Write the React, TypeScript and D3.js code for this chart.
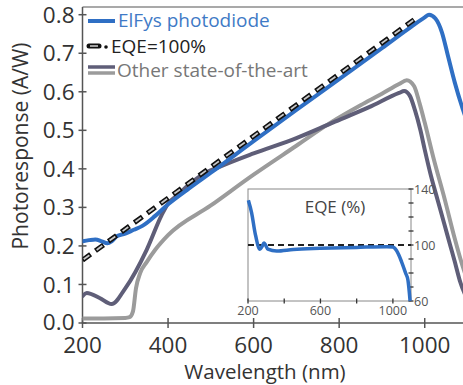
import * as d3 from 'd3';

// ElFys photodiode (A/W)
const elfysWl = [200, 215, 230, 245, 258, 268, 280, 300, 320, 340, 370, 400, 450, 500, 600, 700, 800, 900, 960, 1000, 1010, 1025, 1040, 1055, 1070, 1089, 1100];
const elfysResp = [0.212, 0.215, 0.217, 0.212, 0.207, 0.212, 0.225, 0.232, 0.242, 0.252, 0.278, 0.308, 0.35, 0.39, 0.472, 0.553, 0.633, 0.713, 0.762, 0.793, 0.8, 0.79, 0.755, 0.69, 0.625, 0.555, 0.52];

// other state-of-the-art, darker one
const darkWl = [200, 210, 240, 268, 300, 350, 385, 400, 420, 450, 480, 520, 600, 700, 785, 870, 940, 952, 965, 977, 990, 1000, 1015, 1030, 1045, 1060, 1070, 1082, 1100];
const darkResp = [0.07, 0.078, 0.065, 0.049, 0.09, 0.19, 0.28, 0.31, 0.33, 0.36, 0.385, 0.405, 0.44, 0.48, 0.52, 0.56, 0.597, 0.602, 0.59, 0.553, 0.5, 0.45, 0.38, 0.32, 0.26, 0.2, 0.16, 0.11, 0.06];

// other state-of-the-art, lighter one
const lightWl = [200, 250, 300, 310, 318, 325, 335, 350, 370, 400, 500, 600, 700, 780, 850, 900, 940, 958, 975, 988, 1000, 1020, 1047, 1070, 1089, 1100];
const lightResp = [0.012, 0.012, 0.013, 0.015, 0.03, 0.09, 0.13, 0.158, 0.19, 0.228, 0.305, 0.385, 0.46, 0.52, 0.565, 0.595, 0.62, 0.63, 0.615, 0.57, 0.52, 0.43, 0.32, 0.22, 0.146, 0.11];

// EQE = 100% reference line
const idealWl = [200, 975];
const idealResp = [0.163, 0.787];

// inset EQE (%)
const insetWl = [202, 220, 240, 266, 278, 288, 310, 358, 450, 597, 800, 966, 1000, 1020, 1048, 1070, 1083, 1095];
const insetEqe = [132, 123, 108, 97, 99, 101.5, 97, 95.7, 96.8, 97.6, 98.3, 98.8, 98.5, 96, 88, 80, 75, 60];

const yTicks = [0, 0.1, 0.2, 0.3, 0.4, 0.5, 0.6, 0.7, 0.8];
const xTicks = [200, 400, 600, 800, 1000];
const insetXTicks = [200, 400, 600, 800, 1000];
const insetXLabels = [200, 600, 1000];
const insetYTicks = [60, 70, 80, 90, 100, 110, 120, 130, 140];
const insetYLabels = [60, 100, 140];

const FONT = "'Open Sans', 'Noto Sans', sans-serif";
const BLUE = '#2f6fc4';
const DARK = '#5f5e78';
const LIGHT = '#9b9b9b';
const AXIS = '#555';

export default function App() {
  const W = 463, H = 385;
  const x = d3.scaleLinear().domain([200, 1100]).range([82.5, 467.5]);
  const y = d3.scaleLinear().domain([0, 0.82]).range([323, 7]);

  const line = d3.line<[number, number]>()
    .x(d => x(d[0]))
    .y(d => y(d[1]))
    .curve(d3.curveMonotoneX);

  const zip = (a: number[], b: number[]) => a.map((v, i) => [v, b[i]] as [number, number]);

  // inset scales
  const ix = d3.scaleLinear().domain([200, 1100]).range([248, 411]);
  const iy = d3.scaleLinear().domain([60, 140]).range([301, 189]);
  const iline = d3.line<[number, number]>()
    .x(d => ix(d[0]))
    .y(d => iy(d[1]))
    .curve(d3.curveMonotoneX);

  const ideal = line(zip(idealWl, idealResp)) || '';

  return (
    <svg width={W} height={H} style={{ position: 'absolute', left: 0, top: 0, background: '#fff' }} fontFamily={FONT}>
      <defs>
        <clipPath id="plot">
          <rect x={x(200)} y={y(0.82)} width={x(1100) - x(200)} height={y(0) - y(0.82)} />
        </clipPath>
      </defs>

      {/* frame */}
      <line x1={x(200)} x2={W} y1={y(0.82)} y2={y(0.82)} stroke={AXIS} strokeWidth={1.2} />
      <line x1={x(200)} x2={x(200)} y1={y(0.82)} y2={y(0)} stroke={AXIS} strokeWidth={1.5} />
      <line x1={x(200)} x2={W} y1={y(0)} y2={y(0)} stroke={AXIS} strokeWidth={1.5} />

      {yTicks.map(t => (
        <g key={'y' + t}>
          <line x1={x(200) - 4} x2={x(200) + 4} y1={y(t)} y2={y(t)} stroke={AXIS} strokeWidth={1.5} />
          <text x={x(200) - 8} y={y(t)} dy={t === 0 ? '0.3em' : '0.36em'} textAnchor="end" fontSize={22.5} fill="#333">{t.toFixed(1)}</text>
        </g>
      ))}
      {xTicks.map(t => (
        <g key={'x' + t}>
          <line x1={x(t)} x2={x(t)} y1={y(0) - 5} y2={y(0) + 5} stroke={AXIS} strokeWidth={1.5} />
          <text x={x(t)} y={353} textAnchor="middle" fontSize={22.5} fill="#333">{t}</text>
        </g>
      ))}
      <text x={265} y={379} textAnchor="middle" fontSize={20.5} fill="#333">Wavelength (nm)</text>
      <text transform={`translate(28,146) rotate(-90)`} textAnchor="middle" fontSize={21} fill="#333">Photoresponse (A/W)</text>

      {/* curves */}
      <g clipPath="url(#plot)" fill="none" strokeLinejoin="round" strokeLinecap="round">
        <path d={line(zip(lightWl, lightResp)) || ''} stroke={LIGHT} strokeWidth={4} />
        <path d={line(zip(darkWl, darkResp)) || ''} stroke={DARK} strokeWidth={4} />
        <path d={line(zip(elfysWl, elfysResp)) || ''} stroke={BLUE} strokeWidth={4} />
        <path d={ideal} stroke="#111" strokeWidth={5} strokeDasharray="10 6" strokeLinecap="butt" />
        <path d={ideal} stroke="#c8c8c8" strokeWidth={1.8} strokeDasharray="7 9" strokeDashoffset={-1.5} strokeLinecap="butt" />
      </g>

      {/* legend */}
      <line x1={88} x2={115} y1={21} y2={21} stroke={BLUE} strokeWidth={4} />
      <text x={118} y={27} fontSize={19} fill="#3f7ac6">ElFys photodiode</text>
      <line x1={89} x2={99} y1={46} y2={46} stroke="#111" strokeWidth={5} strokeLinecap="round" />
      <line x1={90} x2={98} y1={46} y2={46} stroke="#c8c8c8" strokeWidth={1.6} />
      <circle cx={106} cy={47} r={1.8} fill="#111" />
      <text x={111} y={53} fontSize={19} fill="#222">EQE=100%</text>
      <line x1={88} x2={115} y1={67} y2={67} stroke={DARK} strokeWidth={3.5} />
      <line x1={88} x2={115} y1={73} y2={73} stroke={LIGHT} strokeWidth={3.5} />
      <text x={117} y={77} fontSize={19} fill="#777">Other state-of-the-art</text>

      {/* inset */}
      <rect x={248} y={189} width={163} height={112} fill="#fff" stroke="#888" strokeWidth={1} />
      {insetYTicks.map(t => (
        <line key={'iy' + t} x1={411 - 2.5} x2={411 + 2.5} y1={iy(t)} y2={iy(t)} stroke="#333" strokeWidth={1.3} />
      ))}
      {insetXTicks.map(t => (
        <line key={'ix' + t} x1={ix(t)} x2={ix(t)} y1={301 - 2.5} y2={301 + 2.5} stroke="#333" strokeWidth={1.3} />
      ))}
      {insetYLabels.map(t => (
        <text key={'iyl' + t} x={414} y={iy(t)} dy="0.36em" fontSize={12.5} fill="#555">{t}</text>
      ))}
      {insetXLabels.map(t => (
        <text key={'ixl' + t} x={ix(t)} y={315} textAnchor="middle" fontSize={12.5} fill="#555">{t}</text>
      ))}
      <text x={335} y={213} textAnchor="middle" fontSize={17} fill="#444">EQE (%)</text>
      <line x1={ix(200)} x2={ix(1100)} y1={iy(100)} y2={iy(100)} stroke="#222" strokeWidth={2} strokeDasharray="6 4" />
      <path d={iline(zip(insetWl, insetEqe)) || ''} fill="none" stroke={BLUE} strokeWidth={3.5} strokeLinejoin="round" />
    </svg>
  );
}
